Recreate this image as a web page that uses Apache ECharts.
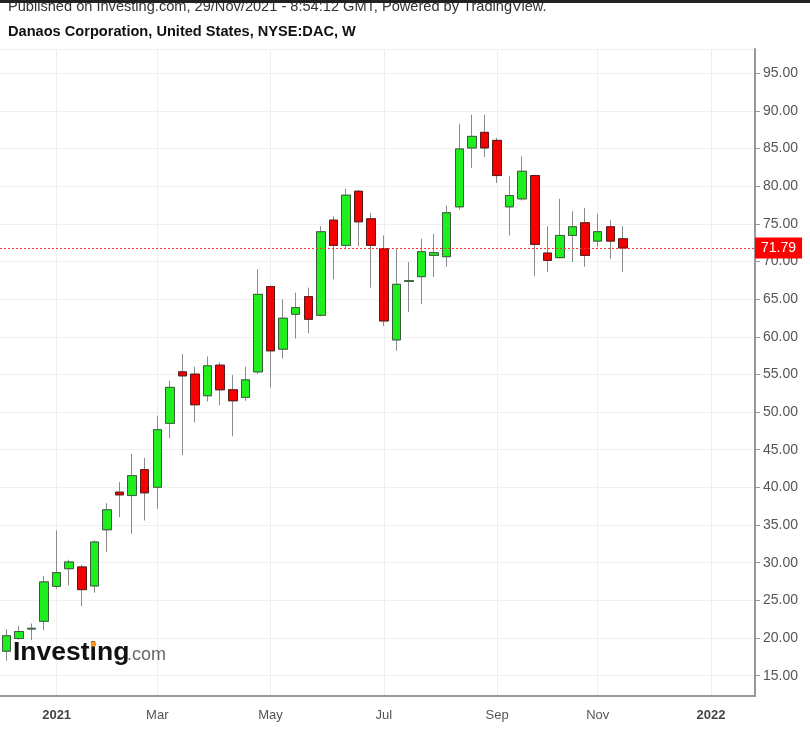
<!DOCTYPE html>
<html><head><meta charset="utf-8">
<script src="https://cdn.jsdelivr.net/npm/echarts@6/dist/echarts.min.js"></script>
<style>html,body{margin:0;padding:0;background:#fff}#c{width:810px;height:734px}</style>
</head><body><div id="c"></div>
<script>
const categories = ['2020-12-07','2020-12-14','2020-12-21','2020-12-28','2021-01-04','2021-01-11','2021-01-18','2021-01-25','2021-02-01','2021-02-08','2021-02-15','2021-02-22','2021-03-01','2021-03-08','2021-03-15','2021-03-22','2021-03-29','2021-04-05','2021-04-12','2021-04-19','2021-04-26','2021-05-03','2021-05-10','2021-05-17','2021-05-24','2021-05-31','2021-06-07','2021-06-14','2021-06-21','2021-06-28','2021-07-05','2021-07-12','2021-07-19','2021-07-26','2021-08-02','2021-08-09','2021-08-16','2021-08-23','2021-08-30','2021-09-06','2021-09-13','2021-09-20','2021-09-27','2021-10-04','2021-10-11','2021-10-18','2021-10-25','2021-11-01','2021-11-08','2021-11-15','2021-11-22','2021-11-29','2021-12-06','2021-12-13','2021-12-20','2021-12-27','2022-01-03','2022-01-10','2022-01-17','2022-01-24'];
const opens  = [18.26,19.94,21.2,22.23,26.87,29.21,29.44,26.92,34.38,39.37,38.92,42.36,40.03,48.51,55.34,55.04,52.17,56.23,52.96,51.95,55.34,66.66,58.35,62.99,65.33,62.85,75.48,72.13,79.32,75.66,71.69,59.58,67.35,67.98,70.8,70.63,77.25,85.07,87.13,86.07,77.25,78.31,81.4,71.11,70.5,73.45,75.13,72.7,74.6,73.01];
const closes = [20.3,20.87,21.3,27.45,28.68,30.1,26.43,32.75,37.03,39.01,41.57,39.28,47.66,53.28,54.81,50.97,56.14,52.96,51.5,54.28,65.63,58.13,62.46,63.87,62.32,73.94,72.13,78.79,75.26,72.13,62.1,66.96,67.45,71.29,71.16,76.46,84.93,86.6,85.07,81.4,78.75,81.97,72.26,70.14,73.45,74.6,70.8,73.94,72.7,71.79];
const lows   = [16.99,19.8,19.72,21.04,26.56,27,24.22,26.03,31.42,36.06,33.85,35.61,37.16,46.52,44.31,48.64,51.42,50.93,46.79,51.5,55.04,53.28,57.12,59.77,60.47,62.7,67.62,71.6,72.03,66.52,61.44,58.13,63.29,64.31,67.93,69.3,76.89,82.42,83.87,80.43,73.45,78.1,68.06,68.59,70.4,69.91,69.3,71.95,70.36,68.59];
const highs  = [21.17,21.62,21.93,28.25,34.28,30.4,29.74,32.96,37.91,40.7,44.44,43.91,49.52,54.15,57.69,56.01,57.38,56.59,54.91,56.01,68.95,66.8,64.97,65.86,66.52,74.68,76.01,79.64,79.5,76.46,73.45,71.69,69.91,73.01,73.68,77.42,88.28,89.48,89.48,86.39,81.3,83.95,81.5,74.68,78.31,76.67,77.12,76.32,75.48,74.68];
const tickDates = ['2021-01-04','2021-03-01','2021-05-03','2021-07-05','2021-09-06','2021-11-01','2022-01-03'];
const tickTexts = ['2021','Mar','May','Jul','Sep','Nov','2022'];
const lastPrice = 71.79;

const candleData = opens.map((o, i) => [o, closes[i], lows[i], highs[i]]);
// bodies only (no wicks) drawn over the gray-wick candles
const bodyData = opens.map((o, i) => [o, closes[i], Math.min(o, closes[i]), Math.max(o, closes[i])]);
const tickIdx = new Set(tickDates.map(d => categories.indexOf(d)));
const isTick = (i) => tickIdx.has(i);

const chart = echarts.init(document.getElementById('c'), null, {renderer: 'canvas'});
const font = '"Liberation Sans", Arial, sans-serif';
chart.setOption({
  animation: false,
  backgroundColor: '#fff',
  textStyle: {fontFamily: font},
  grid: {left: 0, right: 55, top: 49, bottom: 38},
  graphic: [
    {type: 'text', left: 8, top: -1, style: {text: 'Published on Investing.com, 29/Nov/2021 - 8:54:12 GMT, Powered by TradingView.', font: '14.6px ' + font, fill: '#333'}},
    {type: 'rect', left: 0, top: 0, z: 20, shape: {width: 810, height: 3}, style: {fill: '#222'}},
    {type: 'text', left: 8, top: 24, style: {text: 'Danaos Corporation, United States, NYSE:DAC, W', font: 'bold 14.6px ' + font, fill: '#111'}},
    {type: 'text', left: 13, top: 639, z: 10, style: {text: 'Investing', font: 'bold 26.5px ' + font, fill: '#111'}},
    {type: 'text', left: 127, top: 646, z: 10, style: {text: '.com', font: '18px ' + font, fill: '#666'}},
    {type: 'circle', z: 11, shape: {cx: 93.5, cy: 644, r: 2.8}, style: {fill: '#f7941d'}}
  ],
  xAxis: {
    type: 'category',
    data: categories,
    boundaryGap: true,
    axisLine: {lineStyle: {color: '#999', width: 2}},
    axisTick: {alignWithLabel: true, interval: (i) => isTick(i), length: 5, lineStyle: {color: '#999'}},
    axisLabel: {
      interval: (i) => isTick(i),
      margin: 13,
      fontSize: 13,
      color: '#555',
      formatter: (v) => {
        const k = tickDates.indexOf(v);
        if (k < 0) return '';
        const t = tickTexts[k];
        return /^\d{4}$/.test(t) ? '{b|' + t + '}' : t;
      },
      rich: {b: {fontWeight: 'bold', fontSize: 13, color: '#444'}}
    },
    splitLine: {show: true, alignWithLabel: true, interval: (i) => isTick(i), lineStyle: {color: '#efefef', width: 1}}
  },
  yAxis: {
    type: 'value',
    position: 'right',
    min: 12.31,
    max: 98.2,
    splitNumber: 17,
    minInterval: 5,
    maxInterval: 5,
    axisLine: {show: true, lineStyle: {color: '#999', width: 2}},
    axisTick: {show: true, length: 5, lineStyle: {color: '#999'}},
    axisLabel: {showMinLabel: false, showMaxLabel: false, margin: 8, fontSize: 14, color: '#555', formatter: (v) => v.toFixed(2)},
    splitLine: {show: true, lineStyle: {color: '#efefef'}}
  },
  series: [{
    type: 'candlestick',
    data: candleData,
    barWidth: 9,
    itemStyle: {
      color: '#1fef1f', color0: '#f40000',
      borderColor: '#8a8a8a', borderColor0: '#8a8a8a', borderWidth: 1
    },
    markLine: {
      silent: true,
      symbol: ['none', 'none'],
      data: [{yAxis: lastPrice}],
      lineStyle: {color: '#ff3030', type: [2, 2], width: 1},
      label: {
        position: 'end', distance: 0,
        formatter: lastPrice.toFixed(2),
        backgroundColor: '#ff0000', color: '#fff', fontSize: 14,
        padding: [4, 6, 3, 6]
      }
    }
  }, {
    type: 'candlestick',
    data: bodyData,
    barWidth: 9,
    itemStyle: {
      color: '#1fef1f', color0: '#f40000',
      borderColor: '#3d5e3d', borderColor0: '#5a1a1a', borderWidth: 1
    }
  }]
});
</script></body></html>
